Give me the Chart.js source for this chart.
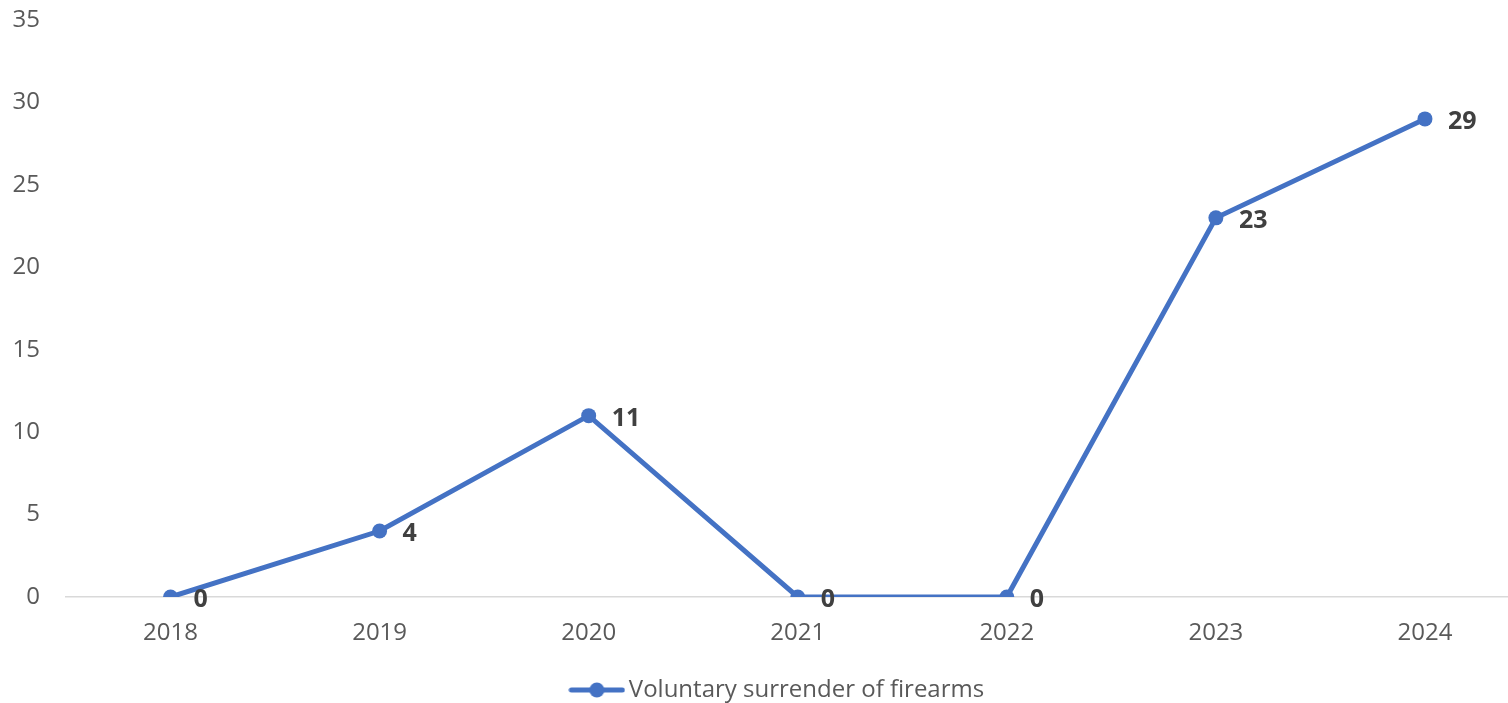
<!DOCTYPE html>
<html>
<head>
<meta charset="utf-8">
<script src="https://cdn.jsdelivr.net/npm/chart.js@4.4.1/dist/chart.umd.min.js"></script>
<style>
  html, body { margin: 0; padding: 0; background: #ffffff; overflow: hidden; }
  #wrap { width: 1537px; height: 703px; }
</style>
</head>
<body>
<div id="wrap"><canvas id="c" width="1537" height="703"></canvas></div>
<script>
const categories = ['2018', '2019', '2020', '2021', '2022', '2023', '2024'];
const surrenderValues = [0, 4, 11, 0, 0, 23, 29];
const yTicks = [0, 5, 10, 15, 20, 25, 30, 35];
const seriesName = 'Voluntary surrender of firearms';

const BLUE = '#4472C4';
const FONT = "'Open Sans', sans-serif";

// legend icon: line with circle marker
const icon = document.createElement('canvas');
icon.width = 57; icon.height = 16;
(function () {
  const g = icon.getContext('2d');
  g.strokeStyle = BLUE; g.lineWidth = 5; g.lineCap = 'round';
  g.beginPath(); g.moveTo(3, 8); g.lineTo(54, 8); g.stroke();
  g.fillStyle = BLUE;
  g.beginPath(); g.arc(28.5, 8, 7.5, 0, Math.PI * 2); g.fill();
})();

const dataLabels = {
  id: 'dataLabels',
  afterDatasetsDraw(chart) {
    const ctx = chart.ctx;
    const meta = chart.getDatasetMeta(0);
    ctx.save();
    ctx.font = "bold 25px " + FONT;
    ctx.fillStyle = '#404040';
    ctx.textAlign = 'left';
    ctx.textBaseline = 'middle';
    meta.data.forEach((pt, i) => {
      ctx.fillText(String(chart.data.datasets[0].data[i]), pt.x + 23, pt.y + 3);
    });
    ctx.restore();
  }
};

const legendShift = {
  id: 'legendShift',
  afterLayout(chart) {
    if (chart.legend) { chart.legend.left += 24; }
  }
};

new Chart(document.getElementById('c'), {
  type: 'line',
  data: {
    labels: categories,
    datasets: [{
      label: seriesName,
      data: surrenderValues,
      borderColor: BLUE,
      backgroundColor: BLUE,
      borderWidth: 5,
      tension: 0,
      pointRadius: 7.5,
      pointHoverRadius: 7.5,
      pointBackgroundColor: BLUE,
      pointBorderColor: BLUE,
      pointBorderWidth: 0,
      pointStyle: 'circle'
    }]
  },
  options: {
    responsive: false,
    animation: false,
    layout: { padding: { left: 0, right: 0, top: 20, bottom: -9 } },
    scales: {
      x: {
        offset: true,
        afterFit(scale) { scale.height = 78; scale.paddingLeft = 0; scale.paddingRight = 0; },
        grid: { display: false, drawTicks: false },
        border: { display: true, color: '#d9d9d9', width: 1.5 },
        ticks: { color: '#595959', font: { family: FONT, size: 24 }, padding: 22 }
      },
      y: {
        min: 0, max: 35,
        afterFit(scale) { scale.width = 66; scale.paddingTop = 0; scale.paddingBottom = 0; },
        afterBuildTicks(scale) { scale.ticks = yTicks.map(v => ({ value: v })); },
        grid: { display: false, drawTicks: false },
        border: { display: false },
        ticks: { color: '#595959', font: { family: FONT, size: 24 }, padding: 26 }
      }
    },
    plugins: {
      legend: {
        position: 'bottom',
        labels: {
          usePointStyle: true,
          pointStyleWidth: 40,
          color: '#595959',
          font: { family: FONT, size: 24 },
          padding: 3,
          generateLabels(chart) {
            return [{
              text: seriesName,
              pointStyle: icon,
              fillStyle: BLUE,
              strokeStyle: BLUE,
              lineWidth: 0,
              fontColor: '#595959',
              datasetIndex: 0,
              hidden: false
            }];
          }
        }
      },
      tooltip: { enabled: false }
    }
  },
  plugins: [dataLabels, legendShift]
});
</script>
</body>
</html>
